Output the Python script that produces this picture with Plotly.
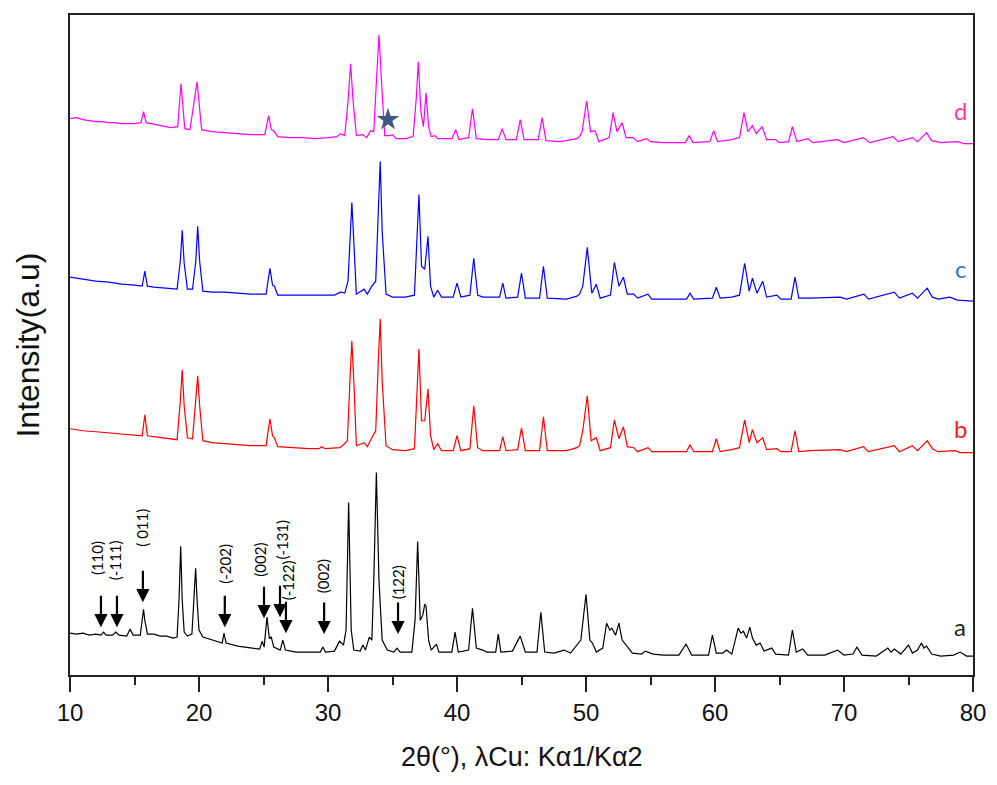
import plotly.graph_objects as go

# ---------------- data (2theta in degrees, intensity in a.u.) ----------------
A_X = [10.0, 10.5, 11.0, 11.5, 12.0, 12.4, 12.6, 12.8, 13.3, 13.55, 13.8, 14.4, 14.65, 14.9, 15.45, 15.6, 15.7, 15.8,
       16.0, 16.5, 17.0, 17.5, 18.0, 18.3, 18.45, 18.58, 18.7, 18.85, 19.1, 19.45, 19.6, 19.74, 19.85, 20.0, 20.3,
       21.0, 21.8, 21.94, 22.1, 23.0, 24.0, 24.7, 24.9, 25.05, 25.27, 25.45, 25.6, 25.8, 26.3, 26.5, 26.7, 27.5,
       28.5, 29.4, 29.6, 29.8, 30.5, 30.9, 31.2, 31.4, 31.6, 31.8, 32.0, 32.5, 32.7, 32.9, 33.2, 33.4, 33.55, 33.75,
       33.95, 34.2, 34.6, 35.1, 35.35, 35.6, 36.5, 36.75, 36.95, 37.15, 37.35, 37.5, 37.6, 37.8, 38.0, 38.4, 38.6,
       39.6, 39.85, 40.1, 40.9, 41.2, 41.5, 42.0, 42.3, 43.0, 43.2, 43.4, 44.3, 44.9, 45.3, 46.2, 46.5, 46.8, 47.5,
       48.3, 48.8, 49.3, 49.6, 50.0, 50.3, 50.5, 50.8, 51.3, 51.6, 51.85, 52.0, 52.3, 52.55, 52.8, 53.3, 53.6, 54.3,
       54.6, 55.2, 56.0, 57.2, 57.75, 58.2, 59.5, 59.8, 60.1, 60.6, 60.9, 61.3, 61.6, 61.8, 62.0, 62.2, 62.45, 62.7,
       62.9, 63.2, 63.5, 63.8, 64.4, 64.7, 65.7, 66.0, 66.3, 66.8, 67.2, 68.5, 69.5, 70.0, 70.7, 71.0, 71.4, 72.5,
       73.4, 73.65, 73.9, 74.4, 75.0, 75.3, 75.7, 76.0, 76.2, 76.4, 76.8, 77.5, 78.5, 79.0, 79.5, 80.0]
A_Y = [42, 41, 42, 40, 41, 40, 43, 40, 40, 43, 40, 39, 46, 40, 40, 55, 66, 55,
       41, 41, 39, 39, 37, 38, 75, 129, 75, 43, 39, 41, 75, 107, 75, 45, 38,
       35, 32, 42, 32, 29, 27, 26, 34, 28, 58, 37, 38, 28, 25, 35, 25, 23,
       23, 23, 28, 23, 24, 34, 30, 45, 173, 45, 25, 24, 30, 25, 38, 35, 95, 203,
       95, 35, 25, 23, 27, 23, 23, 55, 134, 55, 60, 71, 69, 35, 25, 31, 23,
       23, 43, 23, 25, 67, 27, 25, 23, 23, 41, 23, 24, 39, 23, 23, 63, 23, 22,
       25, 22, 30, 35, 81, 35, 32, 23, 27, 52, 45, 47, 40, 52, 35, 27, 22, 21,
       24, 21, 20, 20, 31, 20, 20, 40, 22, 22, 25, 21, 35, 47, 42, 44, 37, 48,
       37, 30, 32, 24, 27, 21, 20, 45, 23, 26, 20, 20, 25, 20, 21, 28, 20, 19,
       27, 23, 26, 21, 30, 22, 25, 32, 27, 29, 21, 19, 20, 23, 19, 19]

B_X = [10.0, 11.0, 12.0, 13.0, 14.0, 15.0, 15.6, 15.8, 16.0, 16.5, 17.5, 18.3, 18.55, 18.7, 18.85, 19.1, 19.5,
       19.75, 19.9, 20.05, 20.3, 21.0, 22.0, 23.0, 24.0, 25.2, 25.5, 25.7, 25.85, 26.1, 27.0, 28.5, 29.3, 29.5,
       29.8, 30.9, 31.2, 31.5, 31.7, 31.85, 32.0, 32.2, 32.8, 33.05, 33.4, 33.7, 33.9, 34.05, 34.2, 34.5, 35.0,
       36.0, 36.7, 36.9, 37.05, 37.25, 37.5, 37.75, 37.95, 38.2, 38.5, 38.8, 39.7, 40.0, 40.3, 41.0, 41.3, 41.6,
       42.0, 43.3, 43.55, 43.8, 44.7, 45.0, 45.3, 46.4, 46.7, 47.0, 48.5, 49.3, 49.5, 49.75, 50.1, 50.4, 50.8,
       51.1, 51.9, 52.2, 52.55, 52.9, 53.2, 53.7, 54.0, 54.8, 55.1, 57.8, 58.06, 58.35, 59.8, 60.1, 60.4, 61.3,
       61.9, 62.3, 62.65, 62.9, 63.25, 63.7, 64.0, 64.8, 65.1, 65.9, 66.2, 66.5, 67.4, 69.7, 70.2, 71.5, 71.9,
       73.9, 74.3, 75.3, 75.7, 76.45, 76.85, 77.3, 78.6, 79.0, 80.0]
B_Y = [47, 45, 44, 43, 42, 41, 40, 61, 40, 39, 37, 36, 75, 106, 70, 38, 37,
       75, 100, 70, 35, 33, 32, 31, 30, 30, 57, 40, 38, 29, 28, 27, 27, 29,
       27, 28, 31, 35, 95, 135, 95, 30, 33, 29, 38, 45, 115, 157, 95, 30, 26,
       25, 27, 85, 127, 55, 55, 87, 40, 26, 32, 25, 25, 40, 25, 27, 70, 28,
       25, 25, 39, 25, 26, 48, 25, 25, 59, 25, 25, 28, 30, 45, 80, 35, 38,
       25, 28, 56, 37, 49, 29, 28, 24, 28, 24, 24, 31, 24, 24, 37, 24, 26,
       28, 56, 33, 46, 33, 38, 26, 27, 24, 24, 45, 24, 25, 26, 24, 29, 24,
       30, 24, 30, 25, 35, 27, 24, 25, 23, 23]

C_X = [10.0, 11.0, 12.0, 13.0, 14.0, 15.0, 15.6, 15.8, 16.0, 16.5, 17.5, 18.3, 18.55, 18.7, 18.85, 19.1, 19.5,
       19.75, 19.9, 20.05, 20.3, 21.0, 22.0, 23.0, 24.0, 25.2, 25.5, 25.7, 25.85, 26.1, 27.0, 28.5, 30.5, 30.95,
       31.3, 31.55, 31.7, 31.85, 32.0, 32.2, 32.8, 33.05, 33.4, 33.7, 33.9, 34.05, 34.2, 34.5, 35.0, 36.0, 36.7,
       36.9, 37.05, 37.25, 37.5, 37.75, 37.95, 38.2, 38.5, 38.8, 39.7, 40.0, 40.3, 41.0, 41.3, 41.6, 42.0, 43.3,
       43.55, 43.8, 44.7, 45.0, 45.3, 46.4, 46.7, 47.0, 48.5, 49.3, 49.5, 49.75, 50.1, 50.45, 50.8, 51.1, 51.9,
       52.2, 52.55, 52.9, 53.2, 53.7, 54.0, 54.8, 55.1, 57.8, 58.06, 58.35, 59.8, 60.1, 60.4, 61.3, 61.9, 62.3,
       62.65, 62.9, 63.25, 63.7, 64.0, 64.8, 65.1, 65.9, 66.2, 66.5, 67.4, 69.7, 70.2, 71.55, 71.9, 73.9, 74.3,
       75.3, 75.7, 76.45, 76.85, 77.3, 78.2, 78.8, 80.0]
C_Y = [49, 47, 45, 44, 42, 41, 40, 55, 40, 39, 38, 37, 65, 96, 63, 37, 37,
       65, 100, 65, 35, 34, 34, 33, 32, 32, 58, 41, 40, 31, 31, 31, 31, 34,
       33, 45, 85, 124, 85, 32, 37, 32, 40, 45, 115, 165, 95, 32, 29, 29, 31,
       85, 132, 60, 57, 90, 40, 29, 36, 29, 29, 43, 29, 31, 68, 31, 29, 29,
       43, 28, 29, 53, 28, 28, 60, 28, 27, 30, 32, 40, 79, 33, 42, 28, 31,
       64, 40, 49, 32, 32, 28, 32, 27, 27, 33, 27, 28, 39, 28, 29, 31, 63,
       35, 48, 33, 45, 29, 31, 27, 27, 49, 28, 28, 29, 27, 32, 27, 34, 28,
       33, 28, 38, 29, 27, 29, 26, 25]

D_X = [10.0, 10.5, 11.0, 11.5, 12.0, 12.5, 13.0, 13.5, 14.0, 15.0, 15.5, 15.7, 15.9, 16.3, 17.0, 17.8, 18.35,
       18.5, 18.6, 18.72, 18.9, 19.3, 19.65, 19.85, 20.0, 20.2, 21.0, 22.0, 23.0, 24.0, 25.1, 25.4, 25.6, 25.8,
       26.1, 27.0, 28.0, 29.0, 30.0, 30.7, 30.95, 31.3, 31.55, 31.75, 31.95, 32.2, 32.7, 33.0, 33.3, 33.55,
       33.75, 33.95, 34.15, 34.4, 34.8, 35.0, 35.3, 36.0, 36.6, 36.85, 37.0, 37.2, 37.4, 37.6, 37.8, 38.0, 38.3,
       38.5, 39.6, 39.9, 40.15, 40.9, 41.2, 41.5, 42.5, 43.2, 43.5, 43.8, 44.6, 44.9, 45.2, 46.3, 46.6, 46.9,
       48.0, 49.3, 49.5, 49.7, 50.05, 50.35, 50.7, 51.0, 51.8, 52.1, 52.4, 52.8, 53.1, 53.65, 54.0, 54.7, 55.0,
       56.0, 57.7, 58.0, 58.3, 59.6, 59.9, 60.2, 61.3, 61.9, 62.25, 62.55, 62.9, 63.2, 63.65, 64.0, 64.7, 65.0,
       65.7, 66.0, 66.35, 67.2, 67.6, 69.5, 70.0, 71.5, 72.0, 73.8, 74.2, 75.3, 75.7, 76.4, 76.8, 77.5, 78.8,
       79.3, 80.0]
D_Y = [58, 59, 57, 56, 55, 55, 54, 54, 53, 53, 54, 65, 54, 53, 51, 49, 50,
       75, 93, 75, 48, 47, 75, 95, 75, 47, 45, 44, 43, 42, 42, 61, 47, 46,
       40, 39, 39, 38, 39, 40, 43, 41, 75, 113, 75, 41, 42, 39, 46, 45,
       95, 142, 95, 41, 41, 42, 38, 38, 40, 80, 115, 65, 50, 84, 50, 40, 41,
       38, 38, 47, 37, 39, 68, 38, 37, 37, 48, 37, 37, 57, 37, 37, 59, 36,
       35, 38, 40, 45, 76, 45, 46, 35, 39, 64, 45, 54, 39, 39, 35, 38, 35,
       34, 34, 41, 34, 35, 46, 35, 37, 39, 64, 45, 51, 43, 50, 37, 37, 34,
       35, 50, 35, 38, 34, 37, 34, 39, 34, 40, 35, 39, 35, 44, 36, 34, 35,
       33, 33]

SERIES = ["a", "b", "c", "d"]
OFFSETS = [0, 200, 350, 500]          # vertical stacking offset of each pattern
LINE_COLORS = ["#000000", "#ff0000", "#0000ff", "#ff00ff"]
LABEL_COLORS = ["#222222", "#ff1a1a", "#2a7bc9", "#ff3da0"]
LABEL_Y = [49, 47, 58, 66]            # label height above each pattern's zero

# reflection indices marked on pattern a
HKL_LABELS = ["(110)", "(-111)", "( 011)", "(-202)", "(002)", "(-131)", "(-122)", "(002)", "(122)"]
HKL_ARROW_X = [12.4, 13.64, 15.65, 22.0, 25.04, 26.28, 26.74, 29.7, 35.43]
HKL_ARROW_Y = [48, 48, 73, 48, 57, 58, 42, 41, 41]
HKL_LABEL_X = [12.15, 13.55, 15.6, 22.05, 24.75, 26.45, 26.9, 29.6, 35.43]
HKL_LABEL_Y = [117, 115, 148, 112, 116, 136, 95, 99, 93]

STAR_X = [34.65]
STAR_Y = [557]

X_TICKS = [10, 20, 30, 40, 50, 60, 70, 80]

# ---------------- figure ----------------
fig = go.Figure()
xs = [A_X, B_X, C_X, D_X]
ys = [A_Y, B_Y, C_Y, D_Y]
for name, x, y, off, col in zip(SERIES, xs, ys, OFFSETS, LINE_COLORS):
    fig.add_trace(go.Scatter(x=x, y=[v + off for v in y], mode="lines", name=name,
                             line=dict(color=col, width=1.2), showlegend=False,
                             hoverinfo="skip"))

fig.add_trace(go.Scatter(x=STAR_X, y=STAR_Y, mode="markers", showlegend=False,
                         marker=dict(symbol="star", size=17, color="#3b5b84",
                                     line=dict(width=0))))

annotations = []
for name, off, lc, ly in zip(SERIES, OFFSETS, LABEL_COLORS, LABEL_Y):
    annotations.append(dict(x=79.0, y=off + ly, xref="x", yref="y", text=name,
                            showarrow=False, font=dict(family="Lato", size=24, color=lc),
                            xanchor="center", yanchor="middle"))

for lab, axx, axy, lx, lyy in zip(HKL_LABELS, HKL_ARROW_X, HKL_ARROW_Y, HKL_LABEL_X, HKL_LABEL_Y):
    annotations.append(dict(x=axx, y=axy, xref="x", yref="y", text="", showarrow=True,
                            ax=0, ay=-33, arrowhead=2, arrowsize=1.2, arrowwidth=2.2,
                            arrowcolor="#000000", standoff=0))
    annotations.append(dict(x=lx, y=lyy, xref="x", yref="y", text=lab, showarrow=False,
                            textangle=-90, font=dict(family="Lato", size=15, color="#000000"),
                            xanchor="center", yanchor="middle"))

annotations.append(dict(x=0.5, y=-0.124, xref="paper", yref="paper",
                        text="2θ(°), λCu: Kα1/Kα2", showarrow=False,
                        font=dict(family="Liberation Sans", size=27, color="#111111"),
                        xanchor="center", yanchor="middle"))
annotations.append(dict(x=-0.047, y=0.5, xref="paper", yref="paper",
                        text="Intensity(a.u)", showarrow=False, textangle=-90,
                        font=dict(family="Liberation Sans", size=32, color="#111111"),
                        xanchor="center", yanchor="middle"))

# the page body keeps the browser's default 8px margin, so the figure is sized/placed for it
fig.update_layout(
    width=989, height=777,
    margin=dict(l=62, r=24, t=5, b=110),
    paper_bgcolor="white", plot_bgcolor="white",
    annotations=annotations,
    xaxis=dict(range=[10, 80], tickvals=X_TICKS, ticktext=[str(t) for t in X_TICKS],
               ticks="outside", ticklen=15, tickwidth=2, tickcolor="#222222",
               minor=dict(ticks="outside", ticklen=8, tickwidth=2, tickcolor="#222222", dtick=5),
               showline=True, linecolor="#222222", linewidth=2, mirror=True,
               showgrid=False, zeroline=False,
               tickfont=dict(family="Liberation Sans", size=24, color="#111111")),
    yaxis=dict(range=[0, 662], showticklabels=False, ticks="",
               showline=True, linecolor="#222222", linewidth=2, mirror=True,
               showgrid=False, zeroline=False),
)

fig.write_html("out.html")
